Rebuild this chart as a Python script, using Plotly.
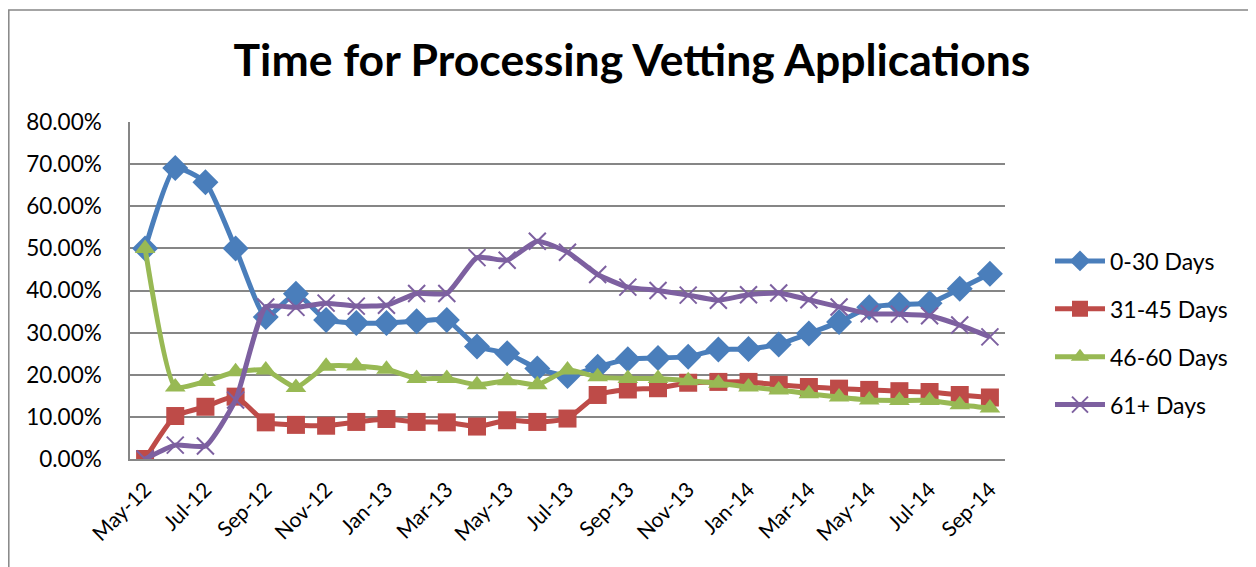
import plotly.graph_objects as go

months = ["May-12", "Jun-12", "Jul-12", "Aug-12", "Sep-12", "Oct-12", "Nov-12", "Dec-12",
          "Jan-13", "Feb-13", "Mar-13", "Apr-13", "May-13", "Jun-13", "Jul-13", "Aug-13",
          "Sep-13", "Oct-13", "Nov-13", "Dec-13", "Jan-14", "Feb-14", "Mar-14", "Apr-14",
          "May-14", "Jun-14", "Jul-14", "Aug-14", "Sep-14"]

days_0_30 = [0.500, 0.691, 0.657, 0.500, 0.337, 0.392, 0.330, 0.323, 0.323, 0.327, 0.330,
             0.267, 0.251, 0.215, 0.197, 0.219, 0.237, 0.240, 0.243, 0.260, 0.261, 0.272,
             0.298, 0.325, 0.360, 0.367, 0.370, 0.404, 0.440]
days_31_45 = [0.000, 0.102, 0.124, 0.148, 0.087, 0.081, 0.079, 0.088, 0.095, 0.088, 0.087,
              0.077, 0.092, 0.088, 0.096, 0.152, 0.165, 0.168, 0.181, 0.183, 0.183, 0.176,
              0.171, 0.167, 0.164, 0.161, 0.159, 0.152, 0.146]
days_46_60 = [0.500, 0.171, 0.184, 0.207, 0.211, 0.170, 0.220, 0.221, 0.213, 0.191, 0.191,
              0.176, 0.186, 0.176, 0.211, 0.195, 0.191, 0.191, 0.186, 0.180, 0.171, 0.164,
              0.155, 0.147, 0.140, 0.139, 0.139, 0.129, 0.121]
days_61 = [0.000, 0.033, 0.031, 0.140, 0.361, 0.360, 0.370, 0.363, 0.365, 0.393, 0.393,
           0.478, 0.472, 0.517, 0.491, 0.438, 0.408, 0.400, 0.389, 0.377, 0.390, 0.394,
           0.378, 0.361, 0.345, 0.344, 0.340, 0.318, 0.290]

series_names = ["0-30 Days", "31-45 Days", "46-60 Days", "61+ Days"]
series_values = [days_0_30, days_31_45, days_46_60, days_61]
colors = ["#4A7EBB", "#BE4B48", "#98B954", "#7D60A0"]
symbols = ["diamond", "square", "triangle-up", "x-thin"]
msizes = [20, 18, 18, 17]

y_ticks = [0, 0.1, 0.2, 0.3, 0.4, 0.5, 0.6, 0.7, 0.8]
x_tick_labels = months[::2]

# figure sits 8px in from the page corner (default body margin)
W, H = 1248, 559
L, T, R, B = 122, 114, 251, 108
PW, PH = W - L - R, H - T - B

fig = go.Figure()
for name, vals, c, s, ms in zip(series_names, series_values, colors, symbols, msizes):
    marker = dict(symbol=s, size=ms, color=c)
    if s == "x-thin":
        marker["line"] = dict(color=c, width=2)
    fig.add_trace(go.Scatter(
        x=months, y=vals, name=name, mode="lines+markers",
        line=dict(color=c, width=5, shape="spline", smoothing=0.5),
        marker=marker, legendgroup=name,
    ))

fig.update_layout(
    width=W, height=H,
    margin=dict(l=L, r=R, t=T, b=B),
    paper_bgcolor="white", plot_bgcolor="white",
    font=dict(family="Lato, Carlito, sans-serif", color="black", size=20),
    title=dict(text="<b>Time for Processing Vetting Applications</b>",
               x=0.5, xanchor="center", y=1 - 52 / H, yanchor="middle",
               font=dict(size=44.5, family="Lato, Carlito, sans-serif", color="black")),
    showlegend=True,
    legend=dict(x=(1042 - L) / PW, xanchor="left", y=0.374, yanchor="middle",
                font=dict(size=23), tracegroupgap=15, itemwidth=50,
                bgcolor="rgba(0,0,0,0)"),
    xaxis=dict(type="category", categoryorder="array", categoryarray=months,
               tickmode="array", tickvals=x_tick_labels, ticktext=x_tick_labels,
               tickangle=-45, showgrid=False, showline=True, linecolor="#868686",
               linewidth=2, ticks="", tickfont=dict(size=21), ticklabelstandoff=8,
               range=[-0.5, len(months) - 0.5], zeroline=False),
    yaxis=dict(range=[0, 0.8], tickvals=y_ticks, tickformat=".2%",
               showgrid=True, gridcolor="#868686", gridwidth=1.5,
               showline=True, linecolor="#868686", linewidth=1.5,
               ticks="", tickfont=dict(size=22.5), ticklabelstandoff=22, zeroline=False),
    shapes=[dict(type="rect", xref="paper", yref="paper",
                 x0=(0.8 - L) / PW, x1=(1247 - L) / PW,
                 y0=(PH + T - 620) / PH, y1=(PH + T - 2) / PH,
                 line=dict(color="#868686", width=1.5), fillcolor="rgba(0,0,0,0)",
                 layer="below")],
)

fig.write_html("out.html")
